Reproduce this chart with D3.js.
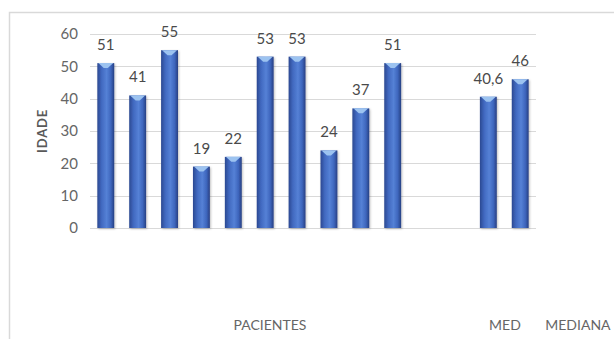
<!DOCTYPE html>
<html>
<head>
<meta charset="utf-8">
<script src="https://cdn.jsdelivr.net/npm/d3@7"></script>
<style>
  body { margin: 0; background: #fff; }
  text { font-family: Lato, "Open Sans", sans-serif; }
</style>
</head>
<body>
<div id="chart"></div>
<script>
'use strict';
// categories (two empty slots separate the patients from the summary bars)
const categories = ['P1', 'P2', 'P3', 'P4', 'P5', 'P6', 'P7', 'P8', 'P9', 'P10', 'gap1', 'gap2', 'MED', 'MEDIANA'];
const idade = [51, 41, 55, 19, 22, 53, 53, 24, 37, 51, null, null, 40.6, 46];
const yTicks = [0, 10, 20, 30, 40, 50, 60];
// axis labels and the slot (in band steps) where each is centred
const axisLabels = ['PACIENTES', 'MED', 'MEDIANA'];
const axisLabelSlots = [5.65, 13.02, 15.31];

((d3) => {
    const width = 614;
    const height = 339;
    const left = 90, right = 536, top = 34, bottom = 228;

    const svg = d3.select('#chart')
        .append('svg')
        .attr('width', width)
        .attr('height', height);

    const defs = svg.append('defs');
    const grad = defs.append('linearGradient')
        .attr('id', 'barGrad')
        .attr('x1', '0%').attr('x2', '100%')
        .attr('y1', '0%').attr('y2', '0%');
    [['0%', '#2b4891'], ['25%', '#4169c0'], ['55%', '#5581d6'], ['80%', '#3e66bd'], ['100%', '#273f82']]
        .forEach(s => grad.append('stop').attr('offset', s[0]).attr('stop-color', s[1]));

    const shadow = defs.append('filter').attr('id', 'shadow')
        .attr('x', '-30%').attr('y', '-10%').attr('width', '160%').attr('height', '130%');
    shadow.append('feDropShadow').attr('dx', 1).attr('dy', 1).attr('stdDeviation', 1.2)
        .attr('flood-color', '#000').attr('flood-opacity', 0.25);

    //outer frame
    svg.append('path')
        .attr('d', 'M9.5,' + height + 'V12.5H' + width)
        .attr('fill', 'none')
        .attr('stroke', '#d9d9d9')
        .attr('stroke-width', 1.5);

    const x = d3.scaleBand()
        .domain(categories)
        .range([left, right])
        .paddingInner(0.47)
        .paddingOuter(0.23);

    const y = d3.scaleLinear()
        .domain([0, 60])
        .range([bottom, top]);

    //grid lines
    svg.append('g')
        .selectAll('line')
        .data(yTicks)
        .enter()
        .append('line')
        .attr('x1', left).attr('x2', right)
        .attr('y1', d => Math.round(y(d)) + 0.5)
        .attr('y2', d => Math.round(y(d)) + 0.5)
        .attr('stroke', '#d9d9d9')
        .attr('stroke-width', 1);

    //y axis labels
    const yAxis = svg.append('g')
        .attr('transform', 'translate(' + (left - 12) + ',0)')
        .call(d3.axisLeft(y).tickValues(yTicks).tickSize(0).tickPadding(0));
    yAxis.select('.domain').remove();
    yAxis.selectAll('text')
        .attr('fill', '#666')
        .style('font-size', '15px')
        .style('font-family', 'Lato, sans-serif');

    svg.append('text')
        .attr('transform', 'translate(47,' + ((top + bottom) / 2) + ') rotate(-90)')
        .attr('text-anchor', 'middle')
        .attr('fill', '#595959')
        .style('font-size', '13px')
        .style('font-weight', 'bold')
        .style('letter-spacing', '0.8px')
        .text('IDADE');

    const data = categories.map((c, i) => ({ cat: c, value: idade[i] }))
        .filter(d => d.value !== null);

    const bars = svg.append('g')
        .selectAll('g')
        .data(data)
        .enter()
        .append('g');

    bars.append('rect')
        .attr('x', d => x(d.cat))
        .attr('y', d => y(d.value))
        .attr('width', x.bandwidth())
        .attr('height', d => y(0) - y(d.value))
        .attr('fill', 'url(#barGrad)')
        .attr('filter', 'url(#shadow)');

    //light bevel on top of each bar
    bars.append('path')
        .attr('d', d => {
            const x0 = x(d.cat), w = x.bandwidth(), t = y(d.value);
            return 'M' + (x0 + 1) + ',' + t + 'H' + (x0 + w - 1) +
                'L' + (x0 + w / 2 + 2) + ',' + (t + 5) + 'H' + (x0 + w / 2 - 2) + 'Z';
        })
        .attr('fill', '#9cc3f0');

    //value labels
    bars.append('text')
        .attr('x', d => x(d.cat) + x.bandwidth() / 2)
        .attr('y', d => y(d.value) - 13)
        .attr('text-anchor', 'middle')
        .attr('fill', '#4a4a4a')
        .style('font-size', '15px')
        .text(d => String(d.value).replace('.', ','));

    //category labels
    svg.append('g')
        .selectAll('text')
        .data(axisLabels)
        .enter()
        .append('text')
        .attr('x', (d, i) => x(categories[0]) + x.step() * axisLabelSlots[i] + x.bandwidth() / 2 - x.step() / 2)
        .attr('y', 330)
        .attr('text-anchor', 'middle')
        .attr('fill', '#666')
        .style('font-size', '14px')
        .text(d => d);
})(window.d3);
</script>
</body>
</html>
